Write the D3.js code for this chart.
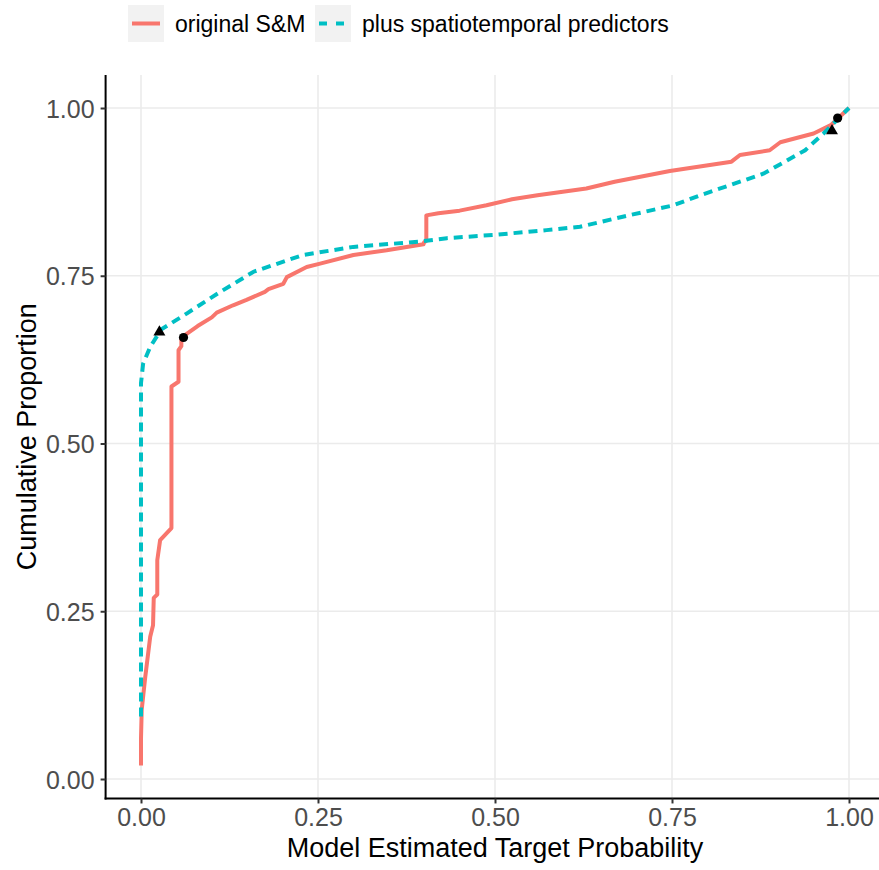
<!DOCTYPE html>
<html>
<head>
<meta charset="utf-8">
<script src="https://cdn.jsdelivr.net/npm/d3@7"></script>
<style>
  body { margin: 0; background: #ffffff; }
  svg { display: block; font-family: "Liberation Sans", Arial, sans-serif; }
</style>
</head>
<body>
<svg id="MyGraph" width="879" height="870"></svg>
<script>
// original S&M curve (probability, cumulative proportion)
var smX = [0.000, 0.000, 0.001, 0.006, 0.013, 0.017, 0.018, 0.023, 0.023, 0.027, 0.043, 0.043,
           0.053, 0.053, 0.057, 0.057, 0.060, 0.080, 0.100, 0.107, 0.130, 0.149, 0.175, 0.180,
           0.201, 0.206, 0.234, 0.253, 0.300, 0.347, 0.399, 0.400, 0.403, 0.403, 0.420, 0.450,
           0.488, 0.524, 0.560, 0.629, 0.669, 0.747, 0.834, 0.846, 0.888, 0.903, 0.950, 0.975, 1.000];
var smY = [0.020, 0.060, 0.103, 0.152, 0.212, 0.229, 0.270, 0.275, 0.326, 0.356, 0.374, 0.585,
           0.592, 0.639, 0.645, 0.657, 0.660, 0.675, 0.688, 0.695, 0.706, 0.714, 0.726, 0.730,
           0.738, 0.748, 0.763, 0.768, 0.781, 0.788, 0.797, 0.800, 0.802, 0.840, 0.843, 0.847,
           0.855, 0.864, 0.870, 0.880, 0.890, 0.906, 0.920, 0.930, 0.937, 0.949, 0.962, 0.975, 1.000];

// plus spatiotemporal predictors curve
var stX = [0.000, 0.000, 0.003, 0.013, 0.025, 0.027, 0.065, 0.112, 0.159, 0.229, 0.300, 0.394,
           0.432, 0.500, 0.573, 0.620, 0.691, 0.752, 0.790, 0.879, 0.938, 0.964, 0.997, 1.000];
var stY = [0.093, 0.590, 0.619, 0.644, 0.664, 0.669, 0.694, 0.726, 0.756, 0.781, 0.793, 0.801,
           0.806, 0.811, 0.818, 0.823, 0.8405, 0.855, 0.870, 0.902, 0.937, 0.962, 0.997, 1.000];

// marked points
var smPtX = [0.060, 0.984];
var smPtY = [0.658, 0.985];
var stPtX = [0.026, 0.976];
var stPtY = [0.666, 0.966];

var ticks = [0, 0.25, 0.5, 0.75, 1];
var tickLabels = ["0.00", "0.25", "0.50", "0.75", "1.00"];
var seriesNames = ["original S&M", "plus spatiotemporal predictors"];
var colors = ["#F8766D", "#00BFC4"];

var svg = d3.select("#MyGraph");

var x = d3.scaleLinear().domain([0, 1]).range([141, 849]);
var y = d3.scaleLinear().domain([0, 1]).range([779, 108]);

var panelLeft = x(-0.05), panelRight = 879,
    panelTop = y(1.049), panelBottom = y(-0.029);

// grid
var grid = svg.append("g").attr("stroke", "#EBEBEB").attr("stroke-width", 1.6);
grid.selectAll("line.v").data(ticks).enter().append("line")
    .attr("x1", function(d) { return x(d); }).attr("x2", function(d) { return x(d); })
    .attr("y1", panelTop).attr("y2", panelBottom);
grid.selectAll("line.h").data(ticks).enter().append("line")
    .attr("y1", function(d) { return y(d); }).attr("y2", function(d) { return y(d); })
    .attr("x1", panelLeft).attr("x2", panelRight);

function pts(xs, ys) {
  return xs.map(function(d, i) { return [d, ys[i]]; });
}

var line = d3.line()
    .x(function(d) { return x(d[0]); })
    .y(function(d) { return y(d[1]); });

svg.append("path")
    .datum(pts(smX, smY))
    .attr("d", line)
    .attr("fill", "none")
    .attr("stroke", colors[0])
    .attr("stroke-width", 4)
    .attr("stroke-linejoin", "round");

svg.append("path")
    .datum(pts(stX, stY))
    .attr("d", line)
    .attr("fill", "none")
    .attr("stroke", colors[1])
    .attr("stroke-width", 4)
    .attr("stroke-dasharray", "9,6");

svg.append("g").selectAll("circle")
    .data(pts(smPtX, smPtY))
    .enter().append("circle")
    .attr("cx", function(d) { return x(d[0]); })
    .attr("cy", function(d) { return y(d[1]); })
    .attr("r", 4.6)
    .attr("fill", "#000");

svg.append("g").selectAll("path")
    .data(pts(stPtX, stPtY))
    .enter().append("path")
    .attr("d", d3.symbol().type(d3.symbolTriangle).size(62))
    .attr("transform", function(d) { return "translate(" + x(d[0]) + "," + y(d[1]) + ")"; })
    .attr("fill", "#000");

// axes
var xAxis = svg.append("g")
    .attr("transform", "translate(0," + panelBottom + ")")
    .call(d3.axisBottom(x).tickValues(ticks).tickSize(5).tickPadding(5)
      .tickFormat(function(d, i) { return tickLabels[i]; }));
xAxis.select(".domain").attr("d", "M" + (panelLeft - 1) + ",0H" + panelRight);

var yAxis = svg.append("g")
    .attr("transform", "translate(" + panelLeft + ",0)")
    .call(d3.axisLeft(y).tickValues(ticks).tickSize(5).tickPadding(6)
      .tickFormat(function(d, i) { return tickLabels[i]; }));
yAxis.select(".domain").attr("d", "M0," + panelTop + "V" + (panelBottom + 1));

svg.selectAll(".domain").attr("stroke", "#000").attr("stroke-width", 2);
svg.selectAll(".tick line").attr("stroke", "#333333").attr("stroke-width", 2);
svg.selectAll(".tick text")
    .attr("fill", "#4D4D4D")
    .style("font-size", "25px")
    .style("font-family", "Liberation Sans, Arial, sans-serif");
yAxis.selectAll(".tick text").attr("dy", "0.36em");

svg.append("text")
    .attr("x", x(0.5))
    .attr("y", 857)
    .attr("text-anchor", "middle")
    .style("font-size", "27px")
    .attr("fill", "#000")
    .text("Model Estimated Target Probability");

svg.append("text")
    .attr("transform", "translate(36," + ((panelTop + panelBottom) / 2) + ") rotate(-90)")
    .attr("text-anchor", "middle")
    .style("font-size", "27px")
    .attr("fill", "#000")
    .text("Cumulative Proportion");

// legend
var legendX = [128, 315];
var legend = svg.append("g").selectAll("g")
    .data(seriesNames)
    .enter().append("g")
    .attr("transform", function(d, i) { return "translate(" + legendX[i] + ",5)"; });

legend.append("rect")
    .attr("width", 36).attr("height", 37)
    .attr("fill", "#F2F2F2");

legend.append("line")
    .attr("x1", 4).attr("x2", 32)
    .attr("y1", 18.5).attr("y2", 18.5)
    .attr("stroke", function(d, i) { return colors[i]; })
    .attr("stroke-width", 4)
    .attr("stroke-dasharray", function(d, i) { return i ? "8,9" : null; });

legend.append("text")
    .attr("x", 47)
    .attr("y", 18.5)
    .attr("dy", "0.35em")
    .style("font-size", "23px")
    .attr("fill", "#000")
    .text(function(d) { return d; });
</script>
</body>
</html>
